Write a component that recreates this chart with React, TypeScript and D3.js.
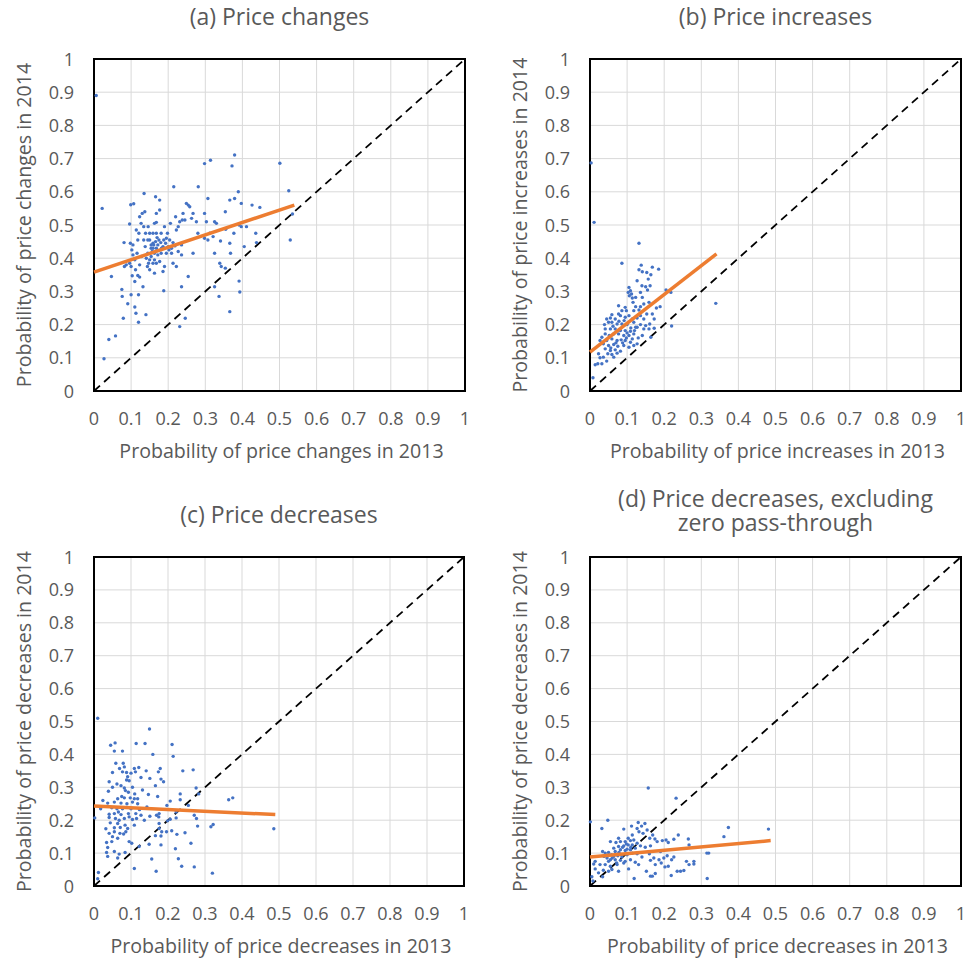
import React from "react";
import * as d3 from "d3";

// ---- data ----
const tickValues = [0, 0.1, 0.2, 0.3, 0.4, 0.5, 0.6, 0.7, 0.8, 0.9, 1];

// (a) price changes: [2013, 2014]
const pointsChanges: [number, number][] = [
  [0.006, 0.89], [0.022, 0.55], [0.027, 0.097], [0.04, 0.155], [0.058, 0.166], [0.047, 0.345],
  [0.075, 0.306], [0.076, 0.285], [0.079, 0.219], [0.081, 0.447], [0.091, 0.263], [0.082, 0.375],
  [0.096, 0.503], [0.099, 0.561], [0.107, 0.564], [0.105, 0.44], [0.1, 0.375], [0.1, 0.29],
  [0.11, 0.253], [0.113, 0.234], [0.12, 0.207], [0.12, 0.29], [0.123, 0.525], [0.13, 0.535],
  [0.135, 0.595], [0.137, 0.54], [0.14, 0.23], [0.132, 0.314], [0.134, 0.495], [0.118, 0.455],
  [0.116, 0.415], [0.11, 0.395], [0.123, 0.38], [0.118, 0.348], [0.103, 0.347], [0.11, 0.33],
  [0.123, 0.343], [0.144, 0.375], [0.15, 0.365], [0.145, 0.415], [0.154, 0.43], [0.145, 0.455],
  [0.15, 0.475], [0.159, 0.445], [0.166, 0.585], [0.177, 0.575], [0.168, 0.535], [0.177, 0.545],
  [0.163, 0.505], [0.168, 0.475], [0.181, 0.475], [0.19, 0.495], [0.195, 0.46], [0.172, 0.44],
  [0.186, 0.435], [0.163, 0.415], [0.172, 0.41], [0.181, 0.415], [0.195, 0.415], [0.163, 0.395],
  [0.177, 0.39], [0.19, 0.375], [0.186, 0.36], [0.163, 0.355], [0.188, 0.302], [0.204, 0.455],
  [0.206, 0.505], [0.2, 0.435], [0.209, 0.415], [0.213, 0.385], [0.215, 0.615], [0.22, 0.525],
  [0.222, 0.485], [0.227, 0.495], [0.231, 0.51], [0.238, 0.515], [0.24, 0.535], [0.249, 0.565],
  [0.254, 0.56], [0.258, 0.555], [0.245, 0.515], [0.263, 0.52], [0.236, 0.44], [0.227, 0.42],
  [0.236, 0.41], [0.222, 0.375], [0.236, 0.314], [0.246, 0.219], [0.231, 0.194], [0.254, 0.345],
  [0.267, 0.415], [0.267, 0.535], [0.276, 0.51], [0.281, 0.615], [0.28, 0.475], [0.298, 0.685],
  [0.314, 0.695], [0.307, 0.58], [0.298, 0.535], [0.303, 0.51], [0.298, 0.46], [0.307, 0.455],
  [0.312, 0.475], [0.321, 0.465], [0.325, 0.51], [0.33, 0.505], [0.325, 0.415], [0.325, 0.314],
  [0.337, 0.285], [0.339, 0.385], [0.343, 0.375], [0.341, 0.452], [0.354, 0.54], [0.355, 0.487],
  [0.354, 0.37], [0.366, 0.575], [0.372, 0.678], [0.379, 0.711], [0.379, 0.58], [0.366, 0.445],
  [0.368, 0.415], [0.366, 0.239], [0.377, 0.475], [0.389, 0.6], [0.391, 0.5], [0.397, 0.565],
  [0.397, 0.495], [0.391, 0.331], [0.393, 0.298], [0.405, 0.435], [0.411, 0.495], [0.426, 0.56],
  [0.436, 0.475], [0.438, 0.447], [0.447, 0.553], [0.501, 0.686], [0.525, 0.603], [0.529, 0.455],
  [0.535, 0.533], [0.15, 0.455], [0.154, 0.44], [0.159, 0.43], [0.157, 0.42], [0.161, 0.44],
  [0.166, 0.45], [0.168, 0.43], [0.175, 0.455], [0.17, 0.462], [0.18, 0.447], [0.154, 0.405],
  [0.15, 0.395], [0.141, 0.4], [0.147, 0.385], [0.159, 0.385], [0.168, 0.385], [0.182, 0.43],
  [0.188, 0.455], [0.193, 0.445], [0.198, 0.475], [0.202, 0.425], [0.209, 0.43], [0.213, 0.447],
  [0.218, 0.437], [0.134, 0.455], [0.138, 0.435], [0.128, 0.405], [0.139, 0.475], [0.159, 0.475],
  [0.168, 0.508], [0.146, 0.495], [0.114, 0.485], [0.127, 0.505], [0.121, 0.475], [0.098, 0.445],
  [0.102, 0.425], [0.105, 0.41], [0.112, 0.365], [0.096, 0.385], [0.087, 0.38],
];
const fitChanges: [number, number][] = [[0, 0.358], [0.54, 0.56]];

// (b) price increases
const pointsIncreases: [number, number][] = [
  [0.003, 0.687], [0.011, 0.508], [0.132, 0.445], [0.086, 0.385], [0.138, 0.379], [0.132, 0.365],
  [0.141, 0.359], [0.153, 0.357], [0.168, 0.373], [0.185, 0.367], [0.164, 0.35], [0.157, 0.337],
  [0.127, 0.332], [0.14, 0.317], [0.15, 0.314], [0.162, 0.317], [0.155, 0.304], [0.105, 0.312],
  [0.109, 0.302], [0.103, 0.297], [0.106, 0.287], [0.112, 0.292], [0.114, 0.28], [0.136, 0.297],
  [0.123, 0.282], [0.141, 0.282], [0.205, 0.304], [0.218, 0.297], [0.159, 0.267], [0.145, 0.262],
  [0.136, 0.254], [0.123, 0.254], [0.116, 0.267], [0.095, 0.252], [0.077, 0.257], [0.086, 0.242],
  [0.098, 0.242], [0.179, 0.25], [0.189, 0.254], [0.168, 0.232], [0.153, 0.232], [0.339, 0.264],
  [0.127, 0.22], [0.114, 0.217], [0.105, 0.227], [0.095, 0.222], [0.082, 0.227], [0.068, 0.217],
  [0.055, 0.22], [0.045, 0.217], [0.039, 0.2], [0.059, 0.207], [0.073, 0.202], [0.086, 0.202],
  [0.1, 0.2], [0.118, 0.207], [0.136, 0.2], [0.127, 0.192], [0.145, 0.187], [0.161, 0.202],
  [0.173, 0.189], [0.22, 0.196], [0.041, 0.187], [0.055, 0.187], [0.068, 0.187], [0.082, 0.182],
  [0.095, 0.182], [0.109, 0.18], [0.118, 0.172], [0.105, 0.167], [0.091, 0.167], [0.077, 0.172],
  [0.064, 0.172], [0.052, 0.167], [0.041, 0.172], [0.032, 0.162], [0.027, 0.152], [0.045, 0.152],
  [0.059, 0.157], [0.073, 0.152], [0.084, 0.154], [0.095, 0.152], [0.109, 0.147], [0.13, 0.16],
  [0.141, 0.167], [0.164, 0.162], [0.036, 0.142], [0.05, 0.137], [0.064, 0.14], [0.075, 0.135],
  [0.091, 0.137], [0.105, 0.132], [0.118, 0.137], [0.127, 0.142], [0.041, 0.127], [0.055, 0.122],
  [0.068, 0.124], [0.082, 0.12], [0.048, 0.112], [0.059, 0.11], [0.073, 0.114], [0.023, 0.112],
  [0.027, 0.1], [0.036, 0.102], [0.014, 0.079], [0.021, 0.082], [0.032, 0.082], [0.045, 0.09],
  [0.008, 0.04], [0.064, 0.102], [0.114, 0.157], [0.123, 0.192], [0.15, 0.197], [0.136, 0.227],
  [0.145, 0.217], [0.159, 0.187], [0.173, 0.217], [0.118, 0.242], [0.132, 0.244], [0.077, 0.232],
  [0.059, 0.23], [0.05, 0.207], [0.062, 0.195], [0.078, 0.21], [0.092, 0.212], [0.1, 0.175],
  [0.088, 0.145], [0.07, 0.145], [0.056, 0.13], [0.098, 0.16], [0.11, 0.19], [0.12, 0.182],
];
const fitIncreases: [number, number][] = [[0, 0.117], [0.341, 0.413]];

// (c) price decreases
const pointsDecreases: [number, number][] = [
  [0.01, 0.51], [0.15, 0.477], [0.045, 0.428], [0.057, 0.435], [0.055, 0.41], [0.077, 0.41],
  [0.114, 0.433], [0.138, 0.433], [0.211, 0.43], [0.214, 0.394], [0.159, 0.4], [0.059, 0.373],
  [0.079, 0.373], [0.082, 0.362], [0.069, 0.357], [0.109, 0.357], [0.121, 0.36], [0.112, 0.347],
  [0.1, 0.343], [0.088, 0.345], [0.077, 0.347], [0.05, 0.345], [0.141, 0.35], [0.174, 0.347],
  [0.179, 0.357], [0.24, 0.35], [0.268, 0.353], [0.127, 0.33], [0.151, 0.327], [0.181, 0.325],
  [0.188, 0.317], [0.088, 0.322], [0.095, 0.32], [0.091, 0.332], [0.041, 0.317], [0.05, 0.3],
  [0.073, 0.305], [0.082, 0.298], [0.104, 0.3], [0.131, 0.292], [0.166, 0.305], [0.276, 0.298],
  [0.039, 0.288], [0.093, 0.285], [0.147, 0.278], [0.283, 0.28], [0.233, 0.28], [0.075, 0.272],
  [0.064, 0.265], [0.082, 0.268], [0.098, 0.268], [0.109, 0.265], [0.172, 0.272], [0.024, 0.26],
  [0.037, 0.252], [0.055, 0.255], [0.073, 0.252], [0.089, 0.25], [0.104, 0.255], [0.118, 0.25],
  [0.206, 0.258], [0.233, 0.262], [0.364, 0.262], [0.375, 0.268], [0.018, 0.235], [0.048, 0.238],
  [0.062, 0.235], [0.077, 0.235], [0.1, 0.235], [0.123, 0.232], [0.143, 0.24], [0.197, 0.245],
  [0.255, 0.245], [0.222, 0.225], [0.041, 0.218], [0.055, 0.22], [0.073, 0.217], [0.093, 0.22],
  [0.113, 0.22], [0.127, 0.215], [0.151, 0.212], [0.169, 0.215], [0.176, 0.22], [0.002, 0.207],
  [0.041, 0.208], [0.058, 0.205], [0.068, 0.2], [0.082, 0.205], [0.104, 0.202], [0.115, 0.205],
  [0.136, 0.2], [0.175, 0.21], [0.206, 0.203], [0.222, 0.207], [0.271, 0.215], [0.277, 0.205],
  [0.044, 0.192], [0.064, 0.19], [0.084, 0.185], [0.109, 0.185], [0.176, 0.19], [0.199, 0.198],
  [0.28, 0.182], [0.316, 0.18], [0.322, 0.187], [0.486, 0.174], [0.032, 0.174], [0.055, 0.177],
  [0.071, 0.178], [0.091, 0.175], [0.176, 0.175], [0.196, 0.165], [0.183, 0.165], [0.21, 0.168],
  [0.246, 0.162], [0.041, 0.16], [0.055, 0.165], [0.07, 0.16], [0.08, 0.158], [0.086, 0.165],
  [0.166, 0.153], [0.224, 0.157], [0.05, 0.15], [0.064, 0.145], [0.181, 0.152], [0.048, 0.135],
  [0.095, 0.135], [0.102, 0.13], [0.034, 0.132], [0.149, 0.127], [0.181, 0.125], [0.262, 0.13],
  [0.122, 0.12], [0.037, 0.117], [0.22, 0.113], [0.055, 0.105], [0.084, 0.102], [0.034, 0.102],
  [0.068, 0.097], [0.037, 0.09], [0.064, 0.085], [0.156, 0.082], [0.228, 0.083], [0.237, 0.06],
  [0.271, 0.058], [0.109, 0.053], [0.168, 0.045], [0.32, 0.039], [0.012, 0.041], [0.01, 0.022],
  [0.062, 0.31], [0.085, 0.29], [0.11, 0.28], [0.066, 0.225], [0.118, 0.265], [0.095, 0.21],
];
const fitDecreases: [number, number][] = [[0, 0.243], [0.49, 0.217]];

// (d) price decreases, excluding zero pass-through
const pointsDecreasesNz: [number, number][] = [
  [0.157, 0.298], [0.232, 0.267], [0.001, 0.195], [0.048, 0.2], [0.032, 0.175], [0.091, 0.173],
  [0.112, 0.182], [0.13, 0.193], [0.148, 0.19], [0.139, 0.182], [0.132, 0.165], [0.127, 0.175],
  [0.143, 0.16], [0.154, 0.17], [0.373, 0.178], [0.481, 0.173], [0.361, 0.15], [0.238, 0.155],
  [0.205, 0.14], [0.195, 0.138], [0.211, 0.132], [0.226, 0.142], [0.265, 0.143], [0.267, 0.125],
  [0.169, 0.155], [0.175, 0.143], [0.181, 0.135], [0.161, 0.145], [0.114, 0.155], [0.103, 0.145],
  [0.077, 0.145], [0.055, 0.135], [0.07, 0.132], [0.082, 0.135], [0.095, 0.135], [0.109, 0.138],
  [0.118, 0.14], [0.091, 0.122], [0.103, 0.125], [0.114, 0.125], [0.127, 0.13], [0.077, 0.12],
  [0.064, 0.115], [0.068, 0.105], [0.082, 0.11], [0.095, 0.108], [0.109, 0.11], [0.122, 0.115],
  [0.136, 0.122], [0.149, 0.118], [0.163, 0.122], [0.034, 0.105], [0.041, 0.1], [0.05, 0.102],
  [0.058, 0.095], [0.064, 0.09], [0.075, 0.092], [0.085, 0.095], [0.1, 0.095], [0.114, 0.1],
  [0.127, 0.098], [0.14, 0.088], [0.16, 0.098], [0.172, 0.085], [0.186, 0.08], [0.199, 0.085],
  [0.208, 0.092], [0.22, 0.08], [0.226, 0.088], [0.19, 0.105], [0.315, 0.1], [0.32, 0.1],
  [0.038, 0.09], [0.046, 0.085], [0.055, 0.08], [0.068, 0.08], [0.082, 0.078], [0.095, 0.075],
  [0.109, 0.08], [0.122, 0.072], [0.163, 0.078], [0.26, 0.075], [0.267, 0.065], [0.28, 0.075],
  [0.28, 0.067], [0.014, 0.075], [0.01, 0.067], [0.027, 0.065], [0.041, 0.065], [0.055, 0.06],
  [0.073, 0.065], [0.091, 0.07], [0.104, 0.052], [0.131, 0.065], [0.176, 0.065], [0.192, 0.07],
  [0.202, 0.058], [0.211, 0.06], [0.235, 0.045], [0.244, 0.045], [0.253, 0.047], [0.014, 0.052],
  [0.036, 0.048], [0.05, 0.045], [0.059, 0.05], [0.077, 0.045], [0.152, 0.045], [0.176, 0.038],
  [0.219, 0.032], [0.163, 0.03], [0.168, 0.03], [0.005, 0.028], [0.034, 0.028], [0.119, 0.023],
  [0.316, 0.023], [0.008, 0.015], [0.023, 0.04], [0.088, 0.118], [0.098, 0.128], [0.078, 0.102],
  [0.06, 0.085], [0.05, 0.075], [0.11, 0.118], [0.1, 0.112], [0.086, 0.088], [0.072, 0.07],
];
const fitDecreasesNz: [number, number][] = [[0, 0.088], [0.487, 0.138]];

// ---- layout ----
type Panel = {
  title: string[];
  left: number;
  right: number;
  top: number;
  bottom: number;
  xLabel: string;
  yLabel: string;
  points: [number, number][];
  fit: [number, number][];
};

const panels: Panel[] = [
  { title: ["(a) Price changes"], left: 94, right: 465, top: 59, bottom: 391,
    xLabel: "Probability of price changes in 2013", yLabel: "Probability of price changes in 2014",
    points: pointsChanges, fit: fitChanges },
  { title: ["(b) Price increases"], left: 590, right: 961, top: 59, bottom: 391,
    xLabel: "Probability of price increases in 2013", yLabel: "Probability of price increases in 2014",
    points: pointsIncreases, fit: fitIncreases },
  { title: ["(c) Price decreases"], left: 94, right: 464, top: 557, bottom: 886,
    xLabel: "Probability of price decreases in 2013", yLabel: "Probability of price decreases in 2014",
    points: pointsDecreases, fit: fitDecreases },
  { title: ["(d) Price decreases, excluding", "zero pass-through"], left: 590, right: 961, top: 557, bottom: 886,
    xLabel: "Probability of price decreases in 2013", yLabel: "Probability of price decreases in 2014",
    points: pointsDecreasesNz, fit: fitDecreasesNz },
];

const FONT = "'Open Sans', sans-serif";
const TEXT = "#595959";
const fmt = d3.format("~g");

function ScatterPanel({ p }: { p: Panel }) {
  const x = d3.scaleLinear().domain([0, 1]).range([p.left, p.right]);
  const y = d3.scaleLinear().domain([0, 1]).range([p.bottom, p.top]);
  const line = d3.line<[number, number]>().x(d => x(d[0])).y(d => y(d[1]));
  const cx = (p.left + p.right) / 2;
  const cy = (p.top + p.bottom) / 2;
  const titleBase = p.title.length > 1 ? p.top - 50 : p.top - 34;

  return (
    <g>
      {/* grid */}
      {tickValues.slice(1, -1).map(t => (
        <g key={"g" + t}>
          <line x1={x(t)} x2={x(t)} y1={p.top} y2={p.bottom} stroke="#d9d9d9" strokeWidth={1} />
          <line x1={p.left} x2={p.right} y1={y(t)} y2={y(t)} stroke="#d9d9d9" strokeWidth={1} />
        </g>
      ))}
      <rect x={p.left} y={p.top} width={p.right - p.left} height={p.bottom - p.top}
        fill="none" stroke="#000" strokeWidth={2} />

      {/* 45 degree line */}
      <path d={line([[0, 0], [1, 1]]) || ""} stroke="#000" strokeWidth={1.8}
        strokeDasharray="8,5.5" fill="none" />

      {p.points.map((d, i) => (
        <circle key={i} cx={x(d[0])} cy={y(d[1])} r={1.7} fill="#4472C4" />
      ))}

      <path d={line(p.fit) || ""} stroke="#ED7D31" strokeWidth={3.5} fill="none" />

      {/* ticks */}
      {tickValues.map(t => (
        <text key={"x" + t} x={x(t)} y={p.bottom + 34} textAnchor="middle"
          fontSize={18} fill={TEXT} fontFamily={FONT}>{fmt(t)}</text>
      ))}
      {tickValues.map(t => (
        <text key={"y" + t} x={p.left - 20} y={y(t) + 6.5} textAnchor="end"
          fontSize={18} fill={TEXT} fontFamily={FONT}>{fmt(t)}</text>
      ))}

      <text x={cx + 2} y={p.bottom + 67} textAnchor="middle" fontSize={19.6} fill={TEXT}
        fontFamily={FONT}>{p.xLabel}</text>
      <text transform={`translate(${p.left - 63},${cy}) rotate(-90)`} textAnchor="middle"
        fontSize={19.6} fill={TEXT} fontFamily={FONT}>{p.yLabel}</text>

      <text x={cx} y={titleBase} textAnchor="middle" fontSize={23} fill={TEXT} fontFamily={FONT}>
        {p.title.map((s, i) => (
          <tspan key={s} x={cx} dy={i === 0 ? 0 : 24}>{s}</tspan>
        ))}
      </text>
    </g>
  );
}

export default function App() {
  return (
    <svg width={969} height={966} style={{ position: "absolute", left: 0, top: 0, background: "#fff" }}>
      {panels.map(p => <ScatterPanel key={p.title[0]} p={p} />)}
    </svg>
  );
}
